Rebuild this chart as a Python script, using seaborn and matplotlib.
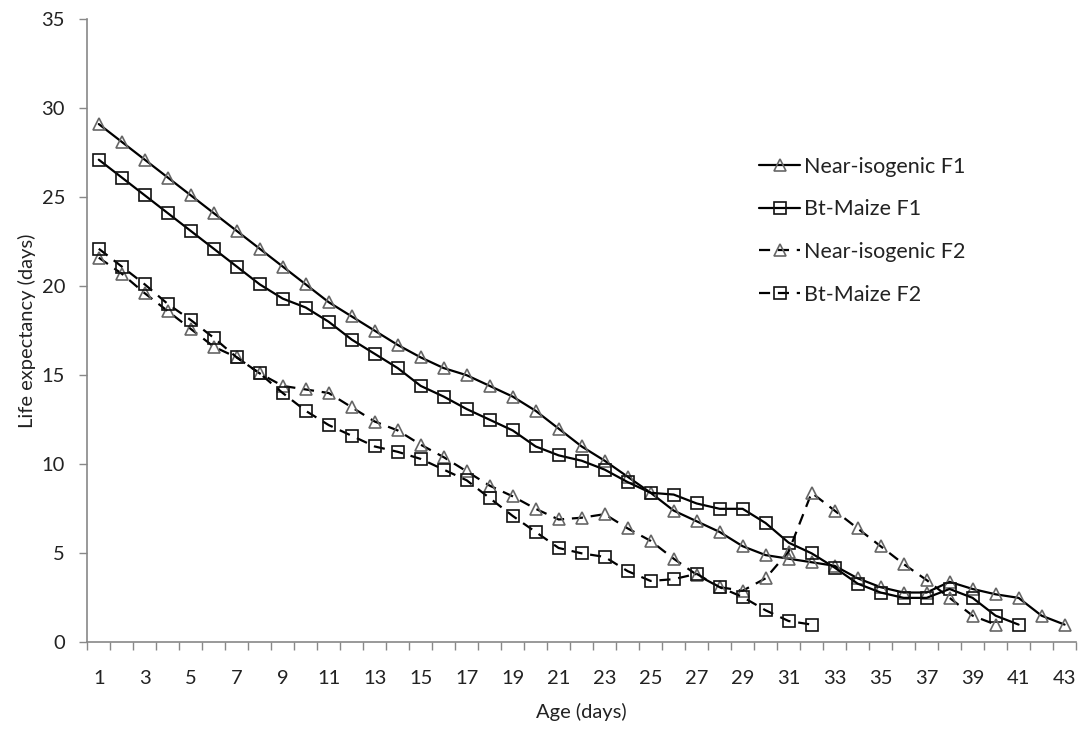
import numpy as np
import pandas as pd
import matplotlib
matplotlib.use("Agg")
import matplotlib.pyplot as plt
import seaborn as sns

# values
ni_f1 = [29.1, 28.1, 27.1, 26.1, 25.1, 24.1, 23.1, 22.1, 21.1, 20.1, 19.1, 18.3, 17.5, 16.7, 16.0,
         15.4, 15.0, 14.4, 13.8, 13.0, 12.0, 11.0, 10.2, 9.3, 8.4, 7.4, 6.8, 6.2, 5.4, 4.9,
         4.7, 4.5, 4.3, 3.6, 3.1, 2.8, 2.8, 3.4, 3.0, 2.7, 2.5, 1.5, 1.0]
bt_f1 = [27.1, 26.1, 25.1, 24.1, 23.1, 22.1, 21.1, 20.1, 19.3, 18.8, 18.0, 17.0, 16.2, 15.4, 14.4,
         13.8, 13.1, 12.5, 11.9, 11.0, 10.5, 10.2, 9.7, 9.0, 8.4, 8.3, 7.8, 7.5, 7.5, 6.7,
         5.6, 5.0, 4.2, 3.3, 2.8, 2.5, 2.5, 3.0, 2.5, 1.5, 1.0]
ni_f2 = [21.6, 20.7, 19.6, 18.6, 17.6, 16.6, 16.0, 15.1, 14.4, 14.2, 14.0, 13.2, 12.4, 11.9, 11.1,
         10.4, 9.6, 8.8, 8.2, 7.5, 6.9, 7.0, 7.2, 6.4, 5.7, 4.7, 3.8, 3.1, 2.9, 3.6,
         5.1, 8.4, 7.4, 6.4, 5.4, 4.4, 3.5, 2.5, 1.5, 1.0]
bt_f2 = [22.1, 21.1, 20.1, 19.0, 18.1, 17.1, 16.0, 15.1, 14.0, 13.0, 12.2, 11.6, 11.0, 10.7, 10.3,
         9.7, 9.1, 8.1, 7.1, 6.2, 5.3, 5.0, 4.8, 4.0, 3.45, 3.55, 3.85, 3.1, 2.55, 1.8,
         1.2, 1.0]
series_names = ["Near-isogenic F1", "Bt-Maize F1", "Near-isogenic F2", "Bt-Maize F2"]
x_labels = [str(d) for d in range(1, 44, 2)]

sns.set_style("white")
plt.rcParams['font.family'] = ['Lato', 'DejaVu Sans']

fig = plt.figure(figsize=(10.83, 7.30), dpi=100)
ax = fig.add_axes([0.0806, 0.120, 0.913, 0.854])

styles = [
    (ni_f1, '-', '^', '#666666'),
    (bt_f1, '-', 's', '#111111'),
    (ni_f2, (0, (5, 3.5)), '^', '#666666'),
    (bt_f2, (0, (5, 3.5)), 's', '#111111'),
]
for (vals, ls, mk, mec), name in zip(styles, series_names):
    d = pd.DataFrame({"Age": np.arange(1, len(vals) + 1), "Life": vals})
    sns.lineplot(data=d, x="Age", y="Life", ax=ax, color='black', lw=1.6,
                 linestyle=ls, marker=mk, markersize=9 if mk == '^' else 8.5,
                 markerfacecolor='none', markeredgecolor=mec, markeredgewidth=1.2,
                 label=name)

ax.set_xlim(0.5, 43.5)
ax.set_ylim(0, 35)
ax.set_yticks(np.arange(0, 36, 5))
ax.set_xticks(np.arange(1, 44, 2))
ax.set_xticklabels(x_labels)
ax.set_xticks(np.arange(0.5, 44, 1), minor=True)
ax.tick_params(axis='x', which='major', length=0, pad=20, labelsize=14.5, colors='#222222')
ax.tick_params(axis='x', which='minor', length=6, width=1, color='#888888', direction='out', bottom=True)
ax.tick_params(axis='y', which='major', length=6, width=1, color='#888888', direction='out',
               left=True, labelsize=14.5, labelcolor='#222222', pad=10)
for s in ['top', 'right']:
    ax.spines[s].set_visible(False)
for s in ['left', 'bottom']:
    ax.spines[s].set_color('#888888')
    ax.spines[s].set_linewidth(1.2)

ax.set_xlabel("Age (days)", fontsize=14.5, color='#222222', labelpad=11)
ax.set_ylabel("Life expectancy (days)", fontsize=14.5, color='#222222', labelpad=4)

leg = ax.legend(loc='upper left', bbox_to_anchor=(0.66, 0.81), frameon=False,
                fontsize=15.5, handlelength=1.9, handletextpad=0.2, labelspacing=1.05)
for t in leg.get_texts():
    t.set_color('#222222')

fig.savefig("out.png", dpi=100)
